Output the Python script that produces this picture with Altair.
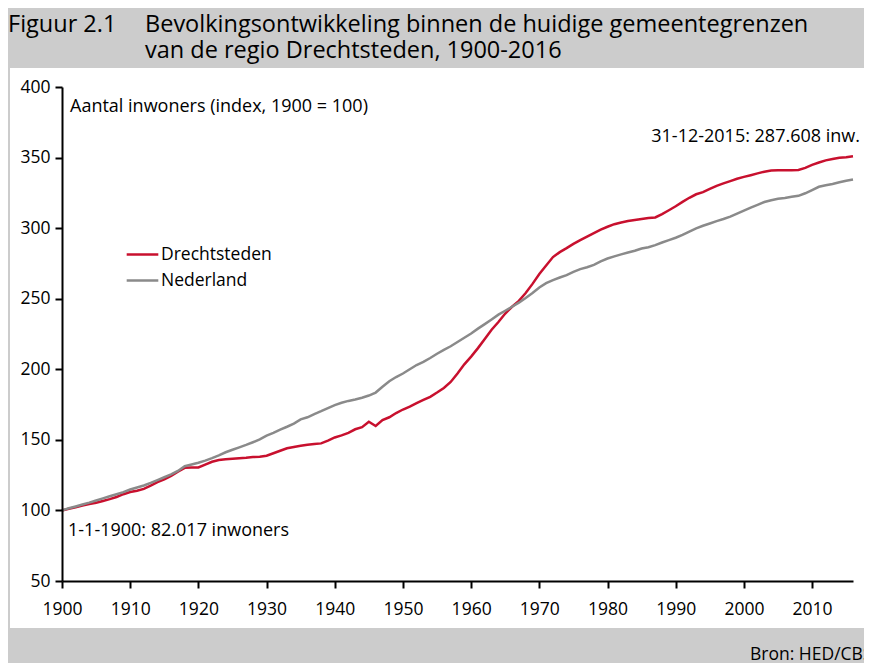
import altair as alt
import pandas as pd

years = list(range(1900, 2017))

drechtsteden = [
    100, 101.2, 102.3, 103.5, 104.5, 105.5, 106.7, 108, 109.5, 111.5,
    113, 114, 115.3, 117.5, 120, 122, 124.5, 127.5, 130.2, 130.5,
    130.5, 132.5, 134.5, 135.7, 136.3, 136.6, 137, 137.3, 137.8, 138,
    138.8, 140.5, 142.3, 144, 145, 145.8, 146.5, 147, 147.5, 149.5,
    151.7, 153.2, 155, 157.5, 159, 162.8, 159.8, 164, 166, 169,
    171.5, 173.5, 176, 178.3, 180.5, 183.5, 186.8, 191, 197, 203.5,
    209, 215, 221.5, 228, 233.5, 239.5, 244.3, 248.5, 254, 260.5,
    267.5, 273.5, 279.5, 283, 285.8, 288.8, 291.5, 294, 296.5, 299,
    301, 302.8, 304, 305, 305.8, 306.5, 307.2, 307.6, 310, 312.7,
    315.5, 318.6, 321.5, 324, 325.5, 327.8, 330, 331.7, 333.3, 335,
    336.3, 337.5, 338.8, 340, 340.8, 341.1, 341.1, 341.1, 341.2, 342.7,
    344.8, 346.5, 348, 349, 349.8, 350.3, 351,
]

nederland = [
    100, 101.5, 102.8, 104.2, 105.5, 107, 108.5, 110, 111.5, 113,
    114.8, 116.2, 117.7, 119.5, 121.5, 123.5, 125.5, 128, 131.3, 132.5,
    133.8, 135.3, 137, 139, 141.2, 143, 144.7, 146.4, 148.3, 150.3,
    153, 155, 157.3, 159.3, 161.5, 164.5, 166, 168.3, 170.3, 172.5,
    174.6, 176.3, 177.6, 178.6, 179.8, 181.4, 183.5, 187.6, 191.5, 194.5,
    197, 200, 203, 205.2, 208, 211, 213.8, 216.3, 219.3, 222.3,
    225.4, 228.8, 232, 235.3, 238.7, 241.5, 244.3, 247.2, 250.5, 254,
    258, 261, 263.2, 265, 266.7, 269, 271, 272.3, 274, 276.5,
    278.5, 280, 281.4, 282.7, 284, 285.6, 286.5, 288, 289.8, 291.5,
    293.2, 295.2, 297.6, 299.8, 301.7, 303.3, 305, 306.5, 308.2, 310.3,
    312.4, 314.6, 316.5, 318.5, 319.8, 320.8, 321.4, 322.2, 322.9, 324.7,
    327, 329.3, 330.4, 331.3, 332.5, 333.6, 334.5,
]

series_names = ["Drechtsteden", "Nederland"]
series_colors = ["#c8102e", "#8a8a8a"]
x_ticks = list(range(1900, 2011, 10))
y_ticks = list(range(50, 401, 50))

title_label = "Figuur 2.1"
title_line1 = "Bevolkingsontwikkeling binnen de huidige gemeentegrenzen"
title_line2 = "van de regio Drechtsteden, 1900-2016"
y_note = "Aantal inwoners (index, 1900 = 100)"
start_note = "1-1-1900: 82.017 inwoners"
end_note = "31-12-2015: 287.608 inw."
source_note = "Bron: HED/CBS"

df = pd.DataFrame({
    "jaar": years * 2,
    "index": drechtsteden + nederland,
    "reeks": [series_names[0]] * len(years) + [series_names[1]] * len(years),
})

FONT = "Open Sans"
W, H = 791, 494

panel = alt.Chart(pd.DataFrame({"a": [0]})).mark_rect(color="white").encode(
    x=alt.value(-52), x2=alt.value(820), y=alt.value(-19), y2=alt.value(541)
)


def txt(s, x, y, align="left", size=18):
    return alt.Chart(pd.DataFrame({"t": [s]})).mark_text(
        align=align, baseline="middle", font=FONT, fontSize=size, color="black"
    ).encode(x=alt.value(x), y=alt.value(y), text="t:N")


axis_style = dict(
    title=None,
    grid=False,
    domainColor="black",
    domainWidth=2,
    tickColor="black",
    tickWidth=2,
    tickSize=7,
    labelFont=FONT,
    labelFontSize=17.5,
    labelColor="black",
    labelFlush=False,
    zindex=2,
)

lines = alt.Chart(df).mark_line(strokeWidth=2.5).encode(
    x=alt.X(
        "jaar:Q",
        scale=alt.Scale(domain=[1900, 2016], nice=False, zero=False),
        axis=alt.Axis(values=x_ticks, format="d", labelPadding=12, **axis_style),
    ),
    y=alt.Y(
        "index:Q",
        scale=alt.Scale(domain=[50, 400], nice=False, zero=False),
        axis=alt.Axis(values=y_ticks, labelPadding=5, **axis_style),
    ),
    color=alt.Color(
        "reeks:N",
        scale=alt.Scale(domain=series_names, range=series_colors),
        legend=alt.Legend(
            title=None,
            orient="none",
            legendX=63,
            legendY=150,
            symbolType="stroke",
            symbolSize=1000,
            symbolStrokeWidth=2.5,
            labelFontSize=17.5,
            labelFont=FONT,
            labelColor="black",
            labelOffset=1,
            rowPadding=-6,
        ),
    ),
    detail="reeks:N",
)

chart = alt.layer(
    panel,
    lines,
    txt(title_label, -54, -62, size=23.5),
    txt(title_line1, 83, -62, size=23.5),
    txt(title_line2, 83, -36, size=23.5),
    txt(y_note, 8, 20),
    txt(start_note, 6, 444),
    txt(end_note, 798, 50, align="right"),
    txt(source_note, 688, 568, size=17.5),
).properties(
    width=W,
    height=H,
    padding={"left": 54, "top": 79, "right": 11, "bottom": 82},
    autosize=alt.AutoSizeParams(type="none"),
    background="#cccccc",
).configure_view(stroke=None, fill=None)

chart.save("out.html", embed_options={"renderer": "svg", "actions": False})
